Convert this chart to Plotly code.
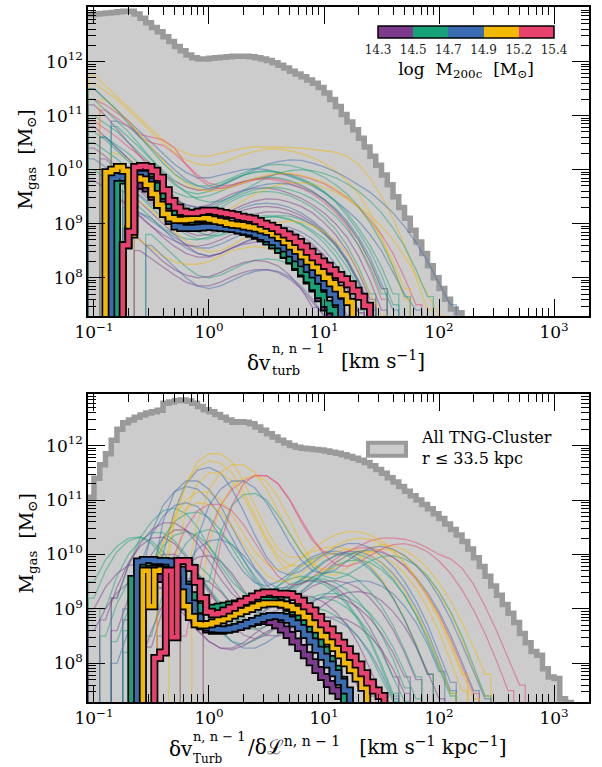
import numpy as np
import plotly.graph_objects as go

FONT = "DejaVu Serif"
BASE_LOG = 5.0  # histogram baseline (below the visible range)

# ---------------- colour bar (log M200c bins) ----------------
MASS_EDGES = ["14.3", "14.5", "14.7", "14.9", "15.2", "15.4"]
COL = {"P": "#7d3a8c", "G": "#17a37a", "B": "#3b6bb0", "Y": "#f3b800", "R": "#e8416e"}
BIN_ORDER = ["P", "G", "B", "Y", "R"]

X_TICKS = [0.1, 1, 10, 100, 1000]
X_TICK_TEXT = ["10<sup>−1</sup>", "10<sup>0</sup>", "10<sup>1</sup>", "10<sup>2</sup>", "10<sup>3</sup>"]
Y_TICKS = [1e8, 1e9, 1e10, 1e11, 1e12]
Y_TICK_TEXT = ["10<sup>8</sup>", "10<sup>9</sup>", "10<sup>10</sup>", "10<sup>11</sup>", "10<sup>12</sup>"]

# ---------------- All TNG-Cluster (log10 Mgas per 0.05 dex bin) ----------------
TOP_ALL_START = -1.10
TOP_ALL = [12.87, 12.87, 12.88, 12.89, 12.9, 12.91, 12.92, 12.93, 12.93, 12.88, 12.8, 12.72, 12.63,
           12.55, 12.46, 12.37, 12.28, 12.2, 12.12, 12.07, 12.05, 12.05, 12.06, 12.07, 12.08, 12.09,
           12.1, 12.1, 12.1, 12.09, 12.07, 12.05, 12.02, 11.98, 11.93, 11.88, 11.82, 11.77, 11.72,
           11.66, 11.6, 11.52, 11.42, 11.3, 11.17, 11.02, 10.88, 10.74, 10.58, 10.42, 10.25, 10.08,
           9.9, 9.72, 9.5, 9.3, 9.1, 8.88, 8.66, 8.45, 8.22, 8.0, 7.8, 7.6, 7.42, 7.35]
BOT_ALL_START = -1.10
BOT_ALL = [11.05, 11.05, 11.4, 11.65, 11.85, 12.1, 12.3, 12.42, 12.47, 12.52, 12.56, 12.6, 12.62,
           12.65, 12.78, 12.8, 12.83, 12.84, 12.82, 12.78, 12.72, 12.66, 12.62, 12.57, 12.52, 12.47,
           12.43, 12.44, 12.43, 12.4, 12.34, 12.28, 12.22, 12.16, 12.1, 12.05, 12.0, 11.97, 11.95,
           11.94, 11.93, 11.92, 11.9, 11.88, 11.86, 11.83, 11.8, 11.77, 11.73, 11.69, 11.63, 11.56,
           11.49, 11.41, 11.33, 11.25, 11.16, 11.08, 11.0, 10.92, 10.84, 10.75, 10.66, 10.56, 10.46,
           10.36, 10.24, 10.1, 9.94, 9.78, 9.6, 9.42, 9.25, 9.08, 8.92, 8.75, 8.55, 8.38, 8.22, 8.15,
           7.9, 7.75, 7.72, 7.35, 7.28]

# ---------------- stacked medians per mass bin (0.05 dex bins) ----------------
TOP_THICK = {
    "P": (-0.75, [8.6, 8.9, 9.75, 9.7, 9.65, 9.5, 9.35, 9.2, 9.1, 9.05, 9.05, 9.05, 9.0, 8.98, 8.97,
                  8.96, 8.95, 8.94, 8.92, 8.9, 8.88, 8.85, 8.82, 8.78, 8.74, 8.68, 8.6, 8.52, 8.42,
                  8.32, 8.2, 8.08, 7.95, 7.8, 7.62, 7.45]),
    "G": (-0.80, [9.8, 9.85, 9.8, 9.88, 9.9, 9.82, 9.7, 9.55, 9.4, 9.25, 9.1, 9.0, 8.97, 8.96, 8.96,
                  8.96, 8.95, 8.94, 8.93, 8.92, 8.9, 8.88, 8.85, 8.82, 8.78, 8.73, 8.67, 8.6, 8.52,
                  8.43, 8.33, 8.22, 8.1, 7.97, 7.83, 7.68, 7.52, 7.4]),
    "B": (-0.85, [9.85, 9.88, 9.85, 9.7, 9.9, 9.92, 9.78, 9.55, 9.4, 9.22, 9.05, 8.95, 8.92, 8.92,
                  8.92, 8.93, 8.94, 8.94, 8.93, 8.92, 8.91, 8.9, 8.88, 8.86, 8.84, 8.8, 8.76, 8.72,
                  8.66, 8.6, 8.54, 8.45, 8.36, 8.27, 8.16, 8.06, 7.95, 7.83, 7.7, 7.55]),
    "Y": (-0.90, [9.95, 10.0, 10.05, 9.98, 8.8, 9.85, 9.82, 9.72, 9.55, 9.35, 9.18, 9.1, 9.07, 9.07,
                  9.08, 9.1, 9.1, 9.1, 9.08, 9.05, 9.03, 9.0, 8.98, 8.97, 8.95, 8.93, 8.91, 8.88,
                  8.85, 8.8, 8.74, 8.66, 8.58, 8.5, 8.4, 8.3, 8.2, 8.1, 8.0, 7.9, 7.8, 7.68, 7.55]),
    "R": (-0.75, [8.6, 8.85, 10.05, 10.07, 10.05, 9.98, 9.85, 9.62, 9.42, 9.3, 9.22, 9.2, 9.2, 9.22,
                  9.24, 9.24, 9.22, 9.2, 9.18, 9.16, 9.13, 9.11, 9.09, 9.05, 9.0, 8.96, 8.92, 8.86,
                  8.8, 8.74, 8.66, 8.58, 8.48, 8.38, 8.3, 8.22, 8.14, 8.05, 7.97, 7.88, 7.76, 7.65,
                  7.48]),
}
BOT_THICK = {
    "P": (-0.625, [9.5, 9.55, 9.55, 9.55, 9.6, 9.6, 9.55, 9.4, 9.15, 8.95, 8.8, 8.68, 8.62, 8.6, 8.6,
                   8.62, 8.64, 8.67, 8.7, 8.73, 8.76, 8.78, 8.78, 8.76, 8.7, 8.62, 8.52, 8.4, 8.28,
                   8.15, 8.02, 7.88, 7.75, 7.62, 7.5, 7.4]),
    "G": (-0.675, [9.55, 9.82, 9.85, 9.85, 9.85, 9.85, 9.83, 9.75, 9.62, 9.45, 9.25, 9.05, 8.98, 9.0,
                   9.02, 9.04, 9.06, 9.08, 9.1, 9.12, 9.14, 9.15, 9.16, 9.16, 9.15, 9.12, 9.08, 9.02,
                   8.95, 8.85, 8.72, 8.58, 8.42, 8.25, 8.08, 7.9, 7.7]),
    "B": (-0.625, [9.87, 9.9, 9.9, 9.88, 9.88, 9.87, 9.8, 9.72, 9.4, 9.1, 8.85, 8.72, 8.66, 8.63, 8.62,
                   8.62, 8.64, 8.67, 8.7, 8.74, 8.78, 8.82, 8.85, 8.87, 8.87, 8.85, 8.8, 8.73, 8.65,
                   8.52, 8.4, 8.25, 8.12, 7.98, 7.82, 7.66, 7.5]),
    "Y": (-0.575, [9.7, 9.05, 9.7, 9.72, 9.7, 9.55, 9.3, 9.05, 8.85, 8.72, 8.7, 8.72, 8.75, 8.79, 8.83,
                   8.88, 8.92, 8.96, 9.0, 9.04, 9.08, 9.1, 9.1, 9.1, 9.08, 9.05, 9.0, 8.94, 8.85,
                   8.73, 8.62, 8.5, 8.4, 8.28, 8.15, 8.0, 7.88, 7.72, 7.55]),
    "R": (-0.475, [8.1, 8.2, 9.7, 8.48, 9.88, 9.88, 9.75, 9.5, 9.2, 8.95, 8.9, 8.92, 8.97, 9.02, 9.08,
                   9.13, 9.18, 9.23, 9.28, 9.3, 9.3, 9.28, 9.28, 9.27, 9.22, 9.15, 9.05, 8.97, 8.85,
                   8.72, 8.62, 8.5, 8.38, 8.26, 8.12, 7.98, 7.82, 7.65, 7.5, 7.4]),
}

# ---------------- individual clusters (0.1 dex bins, start index from log x = -1.05) ----------------
TOP_THIN = [
    ("Y", 0, [11.75, 11.55, 11.35, 11.15, 10.95, 10.75, 10.55, 10.4, 10.3, 10.25, 10.25, 10.3, 10.35, 10.4, 10.42, 10.42, 10.42, 10.41, 10.4, 10.38, 10.35, 10.32, 10.25, 10.1, 9.85, 9.5, 9.1, 8.6, 8.0, 7.4]),
    ("B", 0, [11.5, 11.3, 11.1, 10.9, 10.7, 10.5, 10.3, 10.1, 9.95, 9.85, 9.85, 9.9, 9.95, 10.0, 10.02, 10.0, 9.95, 9.88, 9.8, 9.7, 9.58, 9.42, 9.25, 9.05, 8.8, 8.5, 8.1, 7.7, 7.4]),
    ("R", 0, [11.3, 11.2, 11.05, 10.9, 10.6, 10.5, 10.45, 10.3, 10.1, 9.9, 9.75, 9.7, 9.72, 9.78, 9.82, 9.85, 9.83, 9.78, 9.7, 9.6, 9.45, 9.25, 9.0, 8.7, 8.3, 7.8]),
    ("G", 0, [11.0, 10.85, 10.7, 10.5, 10.3, 10.1, 9.9, 9.72, 9.6, 9.55, 9.6, 9.7, 9.8, 9.9, 9.95, 9.97, 9.95, 9.9, 9.82, 9.72, 9.58, 9.4, 9.15, 8.85, 8.5, 8.05, 7.5]),
    ("P", 0, [10.8, 10.6, 10.4, 10.2, 10.0, 9.8, 9.6, 9.45, 9.35, 9.3, 9.35, 9.45, 9.55, 9.62, 9.66, 9.66, 9.63, 9.56, 9.47, 9.35, 9.2, 9.0, 8.75, 8.4, 7.95, 7.4]),
    ("G", 0, [10.5, 10.35, 10.2, 10.0, 9.8, 9.6, 9.42, 9.28, 9.18, 9.15, 9.2, 9.3, 9.42, 9.52, 9.58, 9.6, 9.58, 9.52, 9.42, 9.3, 9.12, 8.9, 8.6, 8.2, 7.7]),
    ("Y", 0, [11.6, 11.45, 11.3, 11.1, 10.9, 10.7, 10.5, 10.32, 10.18, 10.1, 10.08, 10.12, 10.2, 10.28, 10.34, 10.38, 10.38, 10.35, 10.3, 10.22, 10.12, 9.98, 9.8, 9.55, 9.2, 8.75, 8.2, 7.6]),
    ("B", 2, [10.9, 10.8, 10.6, 10.4, 10.2, 10.0, 9.82, 9.7, 9.65, 9.7, 9.8, 9.9, 10.0, 10.1, 10.15, 10.18, 10.17, 10.12, 10.05, 9.96, 9.85, 9.72, 9.58, 9.4, 9.2, 8.95, 8.65, 8.3, 7.9, 7.5]),
    ("P", 1, [10.2, 10.0, 9.8, 9.6, 9.4, 9.2, 9.0, 8.85, 8.78, 8.8, 8.9, 9.0, 9.1, 9.18, 9.22, 9.22, 9.18, 9.1, 8.98, 8.82, 8.6, 8.3, 7.9, 7.4]),
    ("G", 2, [9.8, 9.7, 9.5, 9.3, 9.1, 8.95, 8.8, 8.72, 8.72, 8.8, 8.9, 9.0, 9.08, 9.12, 9.12, 9.08, 9.0, 8.88, 8.72, 8.5, 8.2, 7.8, 7.3]),
    ("P", 3, [9.6, 9.4, 9.2, 9.0, 8.8, 8.6, 8.45, 8.4, 8.45, 8.55, 8.66, 8.75, 8.8, 8.82, 8.78, 8.7, 8.58, 8.4, 8.15, 7.8, 7.35]),
    ("R", 1, [11.1, 10.95, 10.8, 10.65, 10.6, 10.55, 10.4, 10.1, 9.85, 9.7, 9.65, 9.68, 9.75, 9.82, 9.88, 9.92, 9.92, 9.88, 9.82, 9.74, 9.62, 9.48, 9.3, 9.08, 8.8, 8.45, 8.0, 7.5]),
    ("B", 4, [9.2, 9.1, 8.9, 8.7, 8.55, 8.45, 8.4, 8.45, 8.55, 8.65, 8.72, 8.75, 8.72, 8.65, 8.52, 8.32, 8.05, 7.7, 7.3]),
    ("G", 5, [8.8, 8.6, 8.4, 8.2, 8.05, 8.0, 8.05, 8.15, 8.25, 8.32, 8.35, 8.33, 8.25, 8.1, 7.9, 7.6, 7.25]),
    ("Y", 2, [10.3, 10.2, 10.05, 9.85, 9.65, 9.45, 9.3, 9.2, 9.15, 9.2, 9.3, 9.42, 9.55, 9.65, 9.72, 9.76, 9.76, 9.73, 9.67, 9.58, 9.46, 9.32, 9.15, 8.95, 8.7, 8.4, 8.05, 7.7, 7.3]),
    ("P", 0, [11.2, 11.0, 10.75, 10.5, 10.25, 10.0, 9.75, 9.5, 9.3, 9.15, 9.1, 9.15, 9.25, 9.35, 9.42, 9.46, 9.45, 9.4, 9.32, 9.2, 9.02, 8.8, 8.5, 8.1, 7.6]),
    ("G", 0, [10.0, 9.85, 9.7, 9.5, 9.3, 9.1, 8.92, 8.8, 8.72, 8.7, 8.75, 8.85, 8.95, 9.05, 9.12, 9.15, 9.13, 9.08, 8.98, 8.84, 8.65, 8.4, 8.05, 7.6]),
    ("B", 3, [9.3, 9.2, 9.05, 8.9, 8.75, 8.62, 8.55, 8.55, 8.62, 8.72, 8.82, 8.9, 8.95, 8.96, 8.93, 8.85, 8.72, 8.52, 8.25, 7.9, 7.4]),
    ("G", 0, [11.3, 11.1, 10.9, 10.7, 10.45, 10.2, 9.98, 9.8, 9.68, 9.62, 9.65, 9.72, 9.82, 9.9, 9.96, 9.98, 9.96, 9.91, 9.84, 9.74, 9.6, 9.42, 9.2, 8.92, 8.6, 8.2, 7.7]),
    ("P", 3, [8.9, 8.7, 8.5, 8.3, 8.15, 8.05, 8.0, 8.02, 8.1, 8.2, 8.28, 8.32, 8.3, 8.22, 8.05, 7.8, 7.45]),
    ("Y", 2, [9.0, 8.9, 8.7, 8.55, 8.4, 8.3, 8.25, 8.25, 8.3, 8.4, 8.5, 8.55, 8.58, 8.55, 8.48, 8.35, 8.15, 7.85, 7.45]),
    ("G", 1, [10.6, 10.45, 10.3, 10.1, 9.9, 9.72, 9.58, 9.5, 9.48, 9.52, 9.6, 9.7, 9.78, 9.84, 9.86, 9.85, 9.8, 9.72, 9.6, 9.45, 9.25, 9.0, 8.7, 8.3, 7.8]),
    ("B", 5, [8.6, 8.4, 8.2, 8.0, 7.85, 7.8, 7.85, 7.95, 8.05, 8.12, 8.15, 8.12, 8.02, 7.85, 7.6, 7.3]),
    ("P", 0, [10.4, 10.25, 10.05, 9.85, 9.65, 9.45, 9.25, 9.1, 9.0, 8.95, 8.98, 9.06, 9.15, 9.25, 9.3, 9.32, 9.3, 9.24, 9.15, 9.02, 8.85, 8.62, 8.32, 7.95, 7.5]),
    ("R", 0, [10.9, 10.75, 10.6, 10.42, 10.25, 10.08, 9.92, 9.78, 9.68, 9.62, 9.62, 9.66, 9.72, 9.78, 9.82, 9.83, 9.8, 9.74, 9.66, 9.55, 9.4, 9.2, 8.95, 8.6, 8.15, 7.6]),
    ("B", 0, [10.2, 10.05, 9.88, 9.7, 9.52, 9.35, 9.2, 9.08, 9.0, 8.98, 9.02, 9.1, 9.2, 9.3, 9.36, 9.38, 9.36, 9.3, 9.2, 9.06, 8.88, 8.65, 8.35, 7.95, 7.45]),
    ("Y", 1, [11.3, 11.1, 10.9, 10.65, 10.4, 10.15, 9.92, 9.75, 9.65, 9.6, 9.62, 9.68, 9.76, 9.84, 9.9, 9.93, 9.93, 9.9, 9.84, 9.76, 9.65, 9.5, 9.3, 9.05, 8.72, 8.3, 7.8]),
    ("G", 3, [9.9, 9.75, 9.55, 9.35, 9.15, 8.98, 8.85, 8.78, 8.78, 8.85, 8.95, 9.05, 9.12, 9.15, 9.14, 9.08, 8.98, 8.82, 8.6, 8.3, 7.9, 7.4]),
    ("P", 2, [9.5, 9.35, 9.15, 8.95, 8.75, 8.58, 8.45, 8.38, 8.38, 8.45, 8.55, 8.62, 8.66, 8.66, 8.6, 8.48, 8.3, 8.05, 7.7, 7.3]),
    ("G", 0, [11.5, 11.3, 11.1, 10.85, 10.6, 10.35, 10.12, 9.92, 9.78, 9.7, 9.7, 9.76, 9.85, 9.95, 10.03, 10.08, 10.1, 10.08, 10.03, 9.96, 9.86, 9.72, 9.55, 9.32, 9.02, 8.65, 8.2, 7.65]),
    ("Y", 4, [9.4, 9.25, 9.05, 8.85, 8.68, 8.55, 8.48, 8.5, 8.6, 8.72, 8.85, 8.95, 9.02, 9.05, 9.03, 8.96, 8.85, 8.68, 8.45, 8.12, 7.7, 7.3]),
    ("B", 1, [10.6, 10.4, 10.2, 9.98, 9.78, 9.6, 9.45, 9.35, 9.3, 9.32, 9.4, 9.5, 9.6, 9.68, 9.73, 9.75, 9.73, 9.67, 9.58, 9.45, 9.28, 9.05, 8.75, 8.38, 7.9, 7.4]),
    ("P", 0, [9.8, 9.65, 9.48, 9.3, 9.12, 8.95, 8.8, 8.68, 8.6, 8.58, 8.62, 8.7, 8.8, 8.88, 8.94, 8.96, 8.94, 8.88, 8.78, 8.62, 8.42, 8.15, 7.8, 7.35]),
    ("G", 2, [10.8, 10.6, 10.4, 10.18, 9.95, 9.75, 9.58, 9.45, 9.4, 9.42, 9.5, 9.62, 9.74, 9.85, 9.93, 9.98, 10.0, 9.98, 9.93, 9.85, 9.74, 9.6, 9.42, 9.2, 8.92, 8.58, 8.15, 7.65]),
    ("P", 4, [8.5, 8.35, 8.2, 8.05, 7.92, 7.85, 7.85, 7.92, 8.02, 8.1, 8.15, 8.15, 8.1, 7.98, 7.8, 7.55, 7.3]),
    ("G", 0, [10.7, 10.55, 10.35, 10.15, 9.95, 9.75, 9.55, 9.4, 9.3, 9.25, 9.28, 9.36, 9.46, 9.56, 9.63, 9.67, 9.67, 9.63, 9.56, 9.46, 9.32, 9.14, 8.9, 8.6, 8.2, 7.7]),
]
BOT_THIN = [
    ("Y", 6, [9.3, 10.6, 11.3, 11.7, 11.85, 11.85, 11.7, 11.35, 10.9, 10.45, 10.1, 9.95, 9.95, 10.05, 10.12, 10.15, 10.1, 9.98, 9.8, 9.55, 9.22, 8.82, 8.35, 7.8]),
    ("B", 5, [9.0, 10.0, 10.8, 11.3, 11.55, 11.6, 11.5, 11.2, 10.8, 10.35, 9.95, 9.7, 9.62, 9.7, 9.85, 10.0, 10.12, 10.2, 10.2, 10.12, 9.98, 9.78, 9.5, 9.15, 8.72, 8.2, 7.65]),
    ("R", 8, [8.5, 9.6, 10.4, 10.9, 11.2, 11.35, 11.45, 11.45, 11.3, 11.0, 10.6, 10.25, 10.05, 10.0, 10.05, 10.15, 10.25, 10.3, 10.3, 10.28, 10.22, 10.12, 10.0, 9.92, 9.75, 9.45, 9.05, 8.6, 8.1, 7.6]),
    ("G", 2, [9.2, 9.8, 10.3, 10.6, 10.8, 10.85, 10.75, 10.5, 10.15, 9.8, 9.5, 9.3, 9.22, 9.28, 9.42, 9.6, 9.78, 9.92, 10.0, 10.02, 9.98, 9.88, 9.72, 9.5, 9.2, 8.82, 8.35, 7.8]),
    ("P", 3, [8.8, 9.5, 10.0, 10.3, 10.45, 10.45, 10.3, 10.05, 9.72, 9.4, 9.12, 8.95, 8.9, 8.98, 9.12, 9.28, 9.42, 9.5, 9.52, 9.48, 9.38, 9.2, 8.95, 8.62, 8.2, 7.7]),
    ("G", 1, [9.0, 9.6, 10.0, 10.25, 10.4, 10.4, 10.25, 10.0, 9.68, 9.35, 9.05, 8.85, 8.78, 8.85, 9.0, 9.18, 9.35, 9.48, 9.55, 9.55, 9.48, 9.35, 9.15, 8.88, 8.52, 8.08, 7.55]),
    ("Y", 7, [9.8, 10.8, 11.3, 11.5, 11.5, 11.35, 11.05, 10.65, 10.25, 9.9, 9.65, 9.55, 9.58, 9.7, 9.85, 9.98, 10.05, 10.05, 9.98, 9.85, 9.65, 9.38, 9.02, 8.58, 8.05, 7.5]),
    ("B", 4, [9.5, 10.4, 10.9, 11.15, 11.25, 11.2, 11.0, 10.7, 10.3, 9.9, 9.55, 9.3, 9.18, 9.2, 9.32, 9.5, 9.68, 9.85, 9.98, 10.06, 10.08, 10.04, 9.95, 9.8, 9.58, 9.3, 8.95, 8.52, 8.02, 7.5]),
    ("P", 2, [8.6, 9.2, 9.6, 9.85, 10.0, 10.0, 9.88, 9.65, 9.35, 9.02, 8.72, 8.52, 8.45, 8.52, 8.68, 8.85, 9.02, 9.15, 9.22, 9.22, 9.15, 9.02, 8.82, 8.55, 8.2, 7.75]),
    ("G", 0, [9.5, 9.9, 10.15, 10.3, 10.32, 10.2, 9.95, 9.62, 9.28, 8.95, 8.7, 8.55, 8.55, 8.68, 8.88, 9.1, 9.3, 9.45, 9.52, 9.52, 9.45, 9.3, 9.08, 8.78, 8.4, 7.92, 7.4]),
    ("Y", 9, [9.0, 10.2, 10.9, 11.25, 11.4, 11.45, 11.35, 11.05, 10.65, 10.2, 9.85, 9.65, 9.62, 9.75, 9.92, 10.05, 10.1, 10.08, 9.98, 9.82, 9.6, 9.3, 8.92, 8.45, 7.9, 7.4]),
    ("Y", 5, [9.2, 10.2, 10.7, 11.0, 11.15, 11.15, 11.0, 10.72, 10.38, 10.05, 9.82, 9.72, 9.78, 9.92, 10.1, 10.25, 10.36, 10.42, 10.42, 10.36, 10.25, 10.08, 9.85, 9.55, 9.2, 8.8, 8.32, 7.8]),
    ("G", 3, [8.2, 8.8, 9.3, 9.65, 9.85, 9.9, 9.82, 9.62, 9.35, 9.08, 8.85, 8.72, 8.72, 8.82, 8.98, 9.12, 9.22, 9.28, 9.28, 9.22, 9.1, 8.92, 8.65, 8.3, 7.85, 7.35]),
    ("P", 4, [8.0, 8.6, 9.1, 9.4, 9.55, 9.58, 9.5, 9.32, 9.08, 8.85, 8.65, 8.52, 8.5, 8.58, 8.7, 8.8, 8.85, 8.85, 8.8, 8.68, 8.5, 8.25, 7.9, 7.45]),
    ("B", 6, [8.5, 9.3, 9.8, 10.1, 10.25, 10.28, 10.18, 9.98, 9.72, 9.45, 9.22, 9.08, 9.05, 9.12, 9.25, 9.38, 9.48, 9.52, 9.5, 9.42, 9.28, 9.05, 8.75, 8.35, 7.85]),
    ("G", 1, [8.5, 9.1, 9.5, 9.75, 9.85, 9.82, 9.68, 9.45, 9.15, 8.85, 8.58, 8.4, 8.35, 8.42, 8.55, 8.72, 8.88, 8.98, 9.02, 8.98, 8.88, 8.72, 8.48, 8.15, 7.72, 7.3]),
    ("Y", 8, [9.5, 10.6, 11.2, 11.5, 11.65, 11.65, 11.5, 11.2, 10.8, 10.4, 10.05, 9.82, 9.72, 9.75, 9.88, 10.02, 10.12, 10.18, 10.16, 10.08, 9.95, 9.75, 9.48, 9.15, 8.75, 8.3, 7.8]),
    ("P", 0, [9.0, 9.4, 9.65, 9.8, 9.82, 9.72, 9.5, 9.2, 8.9, 8.62, 8.4, 8.28, 8.28, 8.38, 8.55, 8.7, 8.82, 8.88, 8.88, 8.82, 8.7, 8.5, 8.22, 7.85, 7.4]),
    ("B", 5, [9.5, 10.6, 11.15, 11.35, 11.35, 11.2, 10.9, 10.5, 10.1, 9.75, 9.5, 9.38, 9.4, 9.52, 9.68, 9.85, 9.98, 10.05, 10.05, 9.98, 9.85, 9.65, 9.38, 9.02, 8.58, 8.05, 7.5]),
    ("G", 4, [9.0, 9.8, 10.3, 10.6, 10.75, 10.78, 10.68, 10.45, 10.12, 9.78, 9.5, 9.32, 9.28, 9.38, 9.55, 9.72, 9.88, 9.98, 10.02, 10.0, 9.92, 9.78, 9.55, 9.25, 8.88, 8.42, 7.9, 7.4]),
    ("P", 5, [8.3, 9.0, 9.5, 9.8, 9.95, 9.98, 9.88, 9.65, 9.35, 9.05, 8.8, 8.65, 8.62, 8.72, 8.9, 9.08, 9.22, 9.3, 9.32, 9.28, 9.15, 8.95, 8.68, 8.3, 7.85, 7.35]),
    ("G", 10, [9.5, 10.4, 10.9, 11.1, 11.12, 11.0, 10.72, 10.38, 10.05, 9.78, 9.6, 9.55, 9.62, 9.75, 9.88, 9.96, 9.98, 9.92, 9.8, 9.6, 9.32, 8.95, 8.5, 7.95, 7.4]),
    ("R", 6, [9.0, 10.0, 10.5, 10.8, 10.92, 10.92, 10.8, 10.55, 10.22, 9.88, 9.6, 9.45, 9.45, 9.58, 9.75, 9.92, 10.05, 10.12, 10.12, 10.06, 9.95, 9.78, 9.55, 9.25, 8.9, 8.45, 7.95, 7.45]),
    ("B", 2, [8.0, 8.6, 9.0, 9.28, 9.42, 9.42, 9.3, 9.1, 8.85, 8.6, 8.4, 8.28, 8.28, 8.38, 8.52, 8.68, 8.8, 8.86, 8.86, 8.8, 8.68, 8.48, 8.2, 7.82, 7.35]),
    ("G", 3, [8.6, 9.3, 9.8, 10.15, 10.35, 10.42, 10.35, 10.15, 9.88, 9.58, 9.3, 9.12, 9.08, 9.15, 9.3, 9.45, 9.58, 9.66, 9.68, 9.64, 9.52, 9.32, 9.05, 8.7, 8.25, 7.75]),
    ("P", 1, [8.8, 9.4, 9.85, 10.15, 10.3, 10.32, 10.2, 9.95, 9.62, 9.3, 9.02, 8.82, 8.75, 8.82, 8.98, 9.12, 9.22, 9.25, 9.22, 9.12, 8.95, 8.7, 8.35, 7.9, 7.4]),
    ("Y", 6, [9.6, 10.7, 11.3, 11.6, 11.72, 11.68, 11.5, 11.15, 10.72, 10.3, 9.98, 9.8, 9.78, 9.88, 10.02, 10.16, 10.26, 10.3, 10.28, 10.2, 10.05, 9.85, 9.58, 9.25, 8.85, 8.38, 7.85, 7.35]),
    ("G", 0, [9.2, 9.7, 10.05, 10.25, 10.32, 10.25, 10.05, 9.75, 9.42, 9.1, 8.85, 8.72, 8.72, 8.85, 9.05, 9.25, 9.42, 9.55, 9.6, 9.58, 9.5, 9.35, 9.12, 8.82, 8.45, 7.98, 7.45]),
    ("B", 3, [9.0, 9.8, 10.35, 10.7, 10.9, 10.95, 10.88, 10.65, 10.32, 9.98, 9.68, 9.48, 9.42, 9.5, 9.65, 9.82, 9.96, 10.04, 10.06, 10.02, 9.92, 9.76, 9.52, 9.2, 8.8, 8.32, 7.8]),
    ("P", 2, [9.2, 9.8, 10.2, 10.45, 10.58, 10.58, 10.45, 10.2, 9.88, 9.55, 9.28, 9.1, 9.05, 9.12, 9.25, 9.38, 9.48, 9.52, 9.5, 9.4, 9.22, 8.98, 8.65, 8.25, 7.75]),
    ("G", 5, [8.5, 9.3, 9.85, 10.2, 10.4, 10.46, 10.38, 10.18, 9.9, 9.6, 9.35, 9.2, 9.18, 9.3, 9.48, 9.65, 9.8, 9.88, 9.9, 9.85, 9.72, 9.52, 9.25, 8.9, 8.48, 7.98, 7.45]),
    ("Y", 4, [8.8, 9.6, 10.2, 10.6, 10.85, 10.95, 10.92, 10.78, 10.52, 10.2, 9.88, 9.62, 9.5, 9.52, 9.65, 9.8, 9.95, 10.05, 10.1, 10.08, 10.0, 9.85, 9.62, 9.32, 8.95, 8.5, 8.0, 7.45]),
    ("P", 0, [8.6, 9.0, 9.3, 9.48, 9.55, 9.5, 9.35, 9.12, 8.85, 8.6, 8.4, 8.28, 8.25, 8.32, 8.45, 8.58, 8.68, 8.72, 8.7, 8.62, 8.48, 8.25, 7.95, 7.55]),
    ("B", 8, [9.2, 10.3, 10.9, 11.2, 11.35, 11.35, 11.22, 10.95, 10.6, 10.22, 9.9, 9.7, 9.65, 9.72, 9.88, 10.02, 10.12, 10.15, 10.1, 9.98, 9.8, 9.55, 9.22, 8.82, 8.35, 7.85, 7.35]),
    ("G", 2, [8.4, 9.0, 9.45, 9.75, 9.92, 9.95, 9.85, 9.65, 9.38, 9.1, 8.85, 8.68, 8.62, 8.68, 8.82, 8.98, 9.1, 9.18, 9.2, 9.15, 9.02, 8.82, 8.55, 8.2, 7.75, 7.3]),
    ("R", 10, [9.0, 10.2, 10.9, 11.3, 11.45, 11.45, 11.3, 11.02, 10.65, 10.3, 10.0, 9.82, 9.78, 9.85, 9.98, 10.1, 10.18, 10.2, 10.15, 10.05, 9.88, 9.65, 9.35, 8.98, 8.55, 8.05, 7.5]),
]
THIN_START = -1.05
THIN_STEP = 0.1
THICK_STEP = 0.05


def step_xy(start, step, vals):
    """Step-histogram outline (bin edges) for a list of log10 values."""
    v = np.asarray(vals, dtype=float)
    e = start + step * np.arange(len(v) + 1)
    lx = np.concatenate([[e[0]], e[:-1], [e[-1], e[-1]]])
    ly = np.concatenate([[BASE_LOG], v, [v[-1], BASE_LOG]])
    return 10 ** lx, 10 ** ly


def centre_xy(start, step, vals):
    """Thin histogram drawn through bin centres, with vertical edges at both ends."""
    v = np.asarray(vals, dtype=float)
    e = start + step * np.arange(len(v) + 1)
    c = 0.5 * (e[:-1] + e[1:])
    lx = np.concatenate([[e[0], e[0]], c, [e[-1], e[-1]]])
    ly = np.concatenate([[BASE_LOG, v[0]], v, [v[-1], BASE_LOG]])
    return 10 ** lx, 10 ** ly


def hex_rgba(h, a):
    h = h.lstrip("#")
    return "rgba(%d,%d,%d,%.2f)" % (int(h[0:2], 16), int(h[2:4], 16), int(h[4:6], 16), a)


fig = go.Figure()

panels = [("x", "y", TOP_ALL_START, TOP_ALL, TOP_THIN, TOP_THICK),
          ("x2", "y2", BOT_ALL_START, BOT_ALL, BOT_THIN, BOT_THICK)]
for xa, ya, a_start, a_vals, thin, thick in panels:
    x, y = step_xy(a_start, THICK_STEP, a_vals)
    fig.add_trace(go.Scatter(x=x, y=y, xaxis=xa, yaxis=ya, mode="lines", line_shape="hv",
                             fill="toself", fillcolor="#cccccc",
                             line=dict(color="#9a9a9a", width=5.5), showlegend=False,
                             hoverinfo="skip"))
    for code, idx, vals in thin:
        x, y = centre_xy(THIN_START + THIN_STEP * idx, THIN_STEP, vals)
        fig.add_trace(go.Scatter(x=x, y=y, xaxis=xa, yaxis=ya, mode="lines",
                                 line=dict(color=hex_rgba(COL[code], 0.48), width=1.3),
                                 showlegend=False, hoverinfo="skip"))
    for code in BIN_ORDER:
        s, vals = thick[code]
        x, y = step_xy(s, THICK_STEP, vals)
        fig.add_trace(go.Scatter(x=x, y=y, xaxis=xa, yaxis=ya, mode="lines", line_shape="hv",
                                 line=dict(color="black", width=8), showlegend=False,
                                 hoverinfo="skip"))
        fig.add_trace(go.Scatter(x=x, y=y, xaxis=xa, yaxis=ya, mode="lines", line_shape="hv",
                                 line=dict(color=COL[code], width=4.5), showlegend=False,
                                 hoverinfo="skip"))

# colour bar (discrete mass bins)
cs = []
for i, code in enumerate(BIN_ORDER):
    cs.append([i / 5, COL[code]])
    cs.append([(i + 1) / 5, COL[code]])
fig.add_trace(go.Scatter(
    x=[None], y=[None], xaxis="x", yaxis="y", mode="markers", showlegend=False,
    marker=dict(color=[0], cmin=0, cmax=5, colorscale=cs, showscale=True,
                colorbar=dict(orientation="h", x=(466 - 88) / 501, xanchor="center",
                              y=(702 - 24) / 697, yanchor="top", len=176, lenmode="pixels",
                              thickness=12, thicknessmode="pixels", outlinewidth=1.5,
                              outlinecolor="black", xpad=0, ypad=0, borderwidth=0,
                              tickmode="array", tickvals=list(range(6)), ticktext=MASS_EDGES,
                              ticks="", tickfont=dict(family=FONT, size=12, color="#222"),
                              title=dict(text="log  M<sub>200c</sub>  [M<sub>⊙</sub>]",
                                         side="bottom",
                                         font=dict(family=FONT, size=17, color="black"))))))

MINOR_X = [m * 10.0 ** e for e in range(-2, 4) for m in range(2, 10)]
MINOR_Y = [m * 10.0 ** e for e in range(6, 13) for m in range(2, 10)]


def xax(anchor):
    return dict(type="log", range=[-1.052, 3.304], anchor=anchor, showline=True,
                linecolor="black", linewidth=1.5, mirror="ticks", ticks="inside", ticklen=17,
                tickwidth=1.3, tickcolor="black", tickmode="array", tickvals=X_TICKS,
                ticktext=X_TICK_TEXT, showgrid=False, zeroline=False,
                tickfont=dict(family=FONT, size=17, color="black"),
                minor=dict(ticks="inside", ticklen=8, tickwidth=1, tickcolor="black",
                           tickmode="array", tickvals=MINOR_X, showgrid=False))


def yax(anchor, dom, rng):
    return dict(type="log", range=rng, anchor=anchor, domain=dom, showline=True,
                linecolor="black", linewidth=1.5, mirror="ticks", ticks="inside", ticklen=17,
                tickwidth=1.3, tickcolor="black", tickmode="array", tickvals=Y_TICKS,
                ticktext=Y_TICK_TEXT, showgrid=False, zeroline=False,
                tickfont=dict(family=FONT, size=17, color="black"),
                minor=dict(ticks="inside", ticklen=8, tickwidth=1, tickcolor="black",
                           tickmode="array", tickvals=MINOR_Y, showgrid=False))


def px(xp):
    return (xp - 88) / 501


def py(yp):
    return (702 - yp) / 697


def label(text, xp, yp, size, xanchor="left"):
    return dict(text=text, x=px(xp), y=py(yp), xanchor=xanchor, yanchor="middle",
                showarrow=False, font=dict(family=FONT, size=size, color="black"),
                xref="paper", yref="paper")


ann = [
    # top x-axis title: δv^{n,n-1}_{turb} [km s^-1]
    label("δv", 245, 362, 20),
    label("n, n − 1", 270, 347, 13),
    label("turb", 270, 370, 13),
    label("[km s<sup>−1</sup>]", 339, 359, 20),
    # bottom x-axis title
    label("δv", 167, 749, 20),
    label("n, n − 1", 191, 737, 13),
    label("Turb", 191, 759, 12),
    label("/δℒ<sup>n, n − 1</sup>   [km s<sup>−1</sup> kpc<sup>−1</sup>]", 246, 746, 20),
]
for yc in (158, 543):
    ann.append(dict(text="M<sub>gas</sub>  [M<sub>⊙</sub>]", x=px(27), y=py(yc),
                    xanchor="center", yanchor="middle", textangle=-90, showarrow=False,
                    font=dict(family=FONT, size=19, color="black"),
                    xref="paper", yref="paper"))
ann.append(dict(text="All TNG-Cluster<br>r ≤ 33.5 kpc", x=px(419), y=py(447), xanchor="left",
                yanchor="middle", align="left", showarrow=False,
                font=dict(family=FONT, size=16, color="black"), xref="paper", yref="paper"))

shapes = [dict(type="rect", xref="paper", yref="paper", x0=px(368), x1=px(406), y0=py(455),
               y1=py(442), fillcolor="#cccccc", line=dict(color="#9a9a9a", width=4))]

fig.update_layout(
    width=602, height=767, margin=dict(l=88, r=13, t=5, b=65),
    paper_bgcolor="white", plot_bgcolor="white",
    xaxis=xax("y"), yaxis=yax("x", [py(315), 1.0], [7.29, 13.01]),
    xaxis2=xax("y2"), yaxis2=yax("x2", [0.0, py(393)], [7.29, 12.95]),
    annotations=ann, shapes=shapes, showlegend=False,
    font=dict(family=FONT, color="black"),
)

fig.write_html("out.html", config={"displayModeBar": False},
               post_script="document.body.style.margin='0px';document.body.style.padding='0px';")
